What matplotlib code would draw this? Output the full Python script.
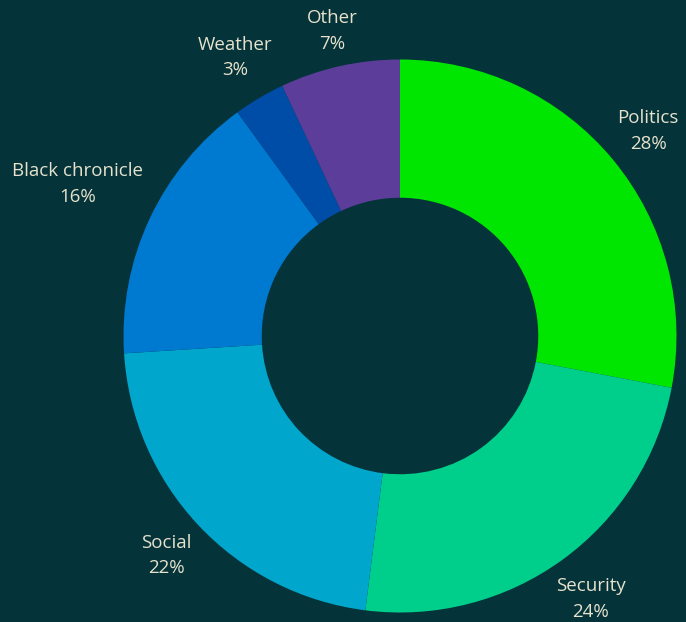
import numpy as np
import matplotlib.pyplot as plt

categories = ["Politics", "Security", "Social", "Black chronicle", "Weather", "Other"]
shares = [28, 24, 22, 16, 3, 7]

slice_colors = ["#00E600", "#00CF8C", "#00A6CB", "#0079D0", "#004DA8", "#5D3D9A"]
label_dist = [1.165, 1.175, 1.16, 1.29, 1.17, 1.13]
bg = "#04333A"
text_color = "#E6E2CC"

W, H = 686, 622
cx, cy, R = 400, 336, 276.5

fig = plt.figure(figsize=(W / 100, H / 100), dpi=100, facecolor=bg)
ax = fig.add_axes([0, 0, 1, 1])
ax.set_facecolor(bg)

wedges, _ = ax.pie(shares, colors=slice_colors, startangle=90, counterclock=False,
                   radius=1.0, wedgeprops=dict(width=0.5, linewidth=0))

# labels sit outside each wedge, two lines: name and share
for w, name, val, d in zip(wedges, categories, shares, label_dist):
    mid = np.deg2rad((w.theta1 + w.theta2) / 2)
    x, y = d * np.cos(mid), d * np.sin(mid)
    ax.text(x, y, f"{name}\n{val}%", ha="center", va="center", color=text_color,
            fontsize=13.5, family="Open Sans", linespacing=1.55)

ax.set_xlim(-cx / R, (W - cx) / R)
ax.set_ylim(-(H - cy) / R, cy / R)
ax.set_aspect("equal")
ax.axis("off")

fig.savefig("out.png", dpi=100, facecolor=bg)
